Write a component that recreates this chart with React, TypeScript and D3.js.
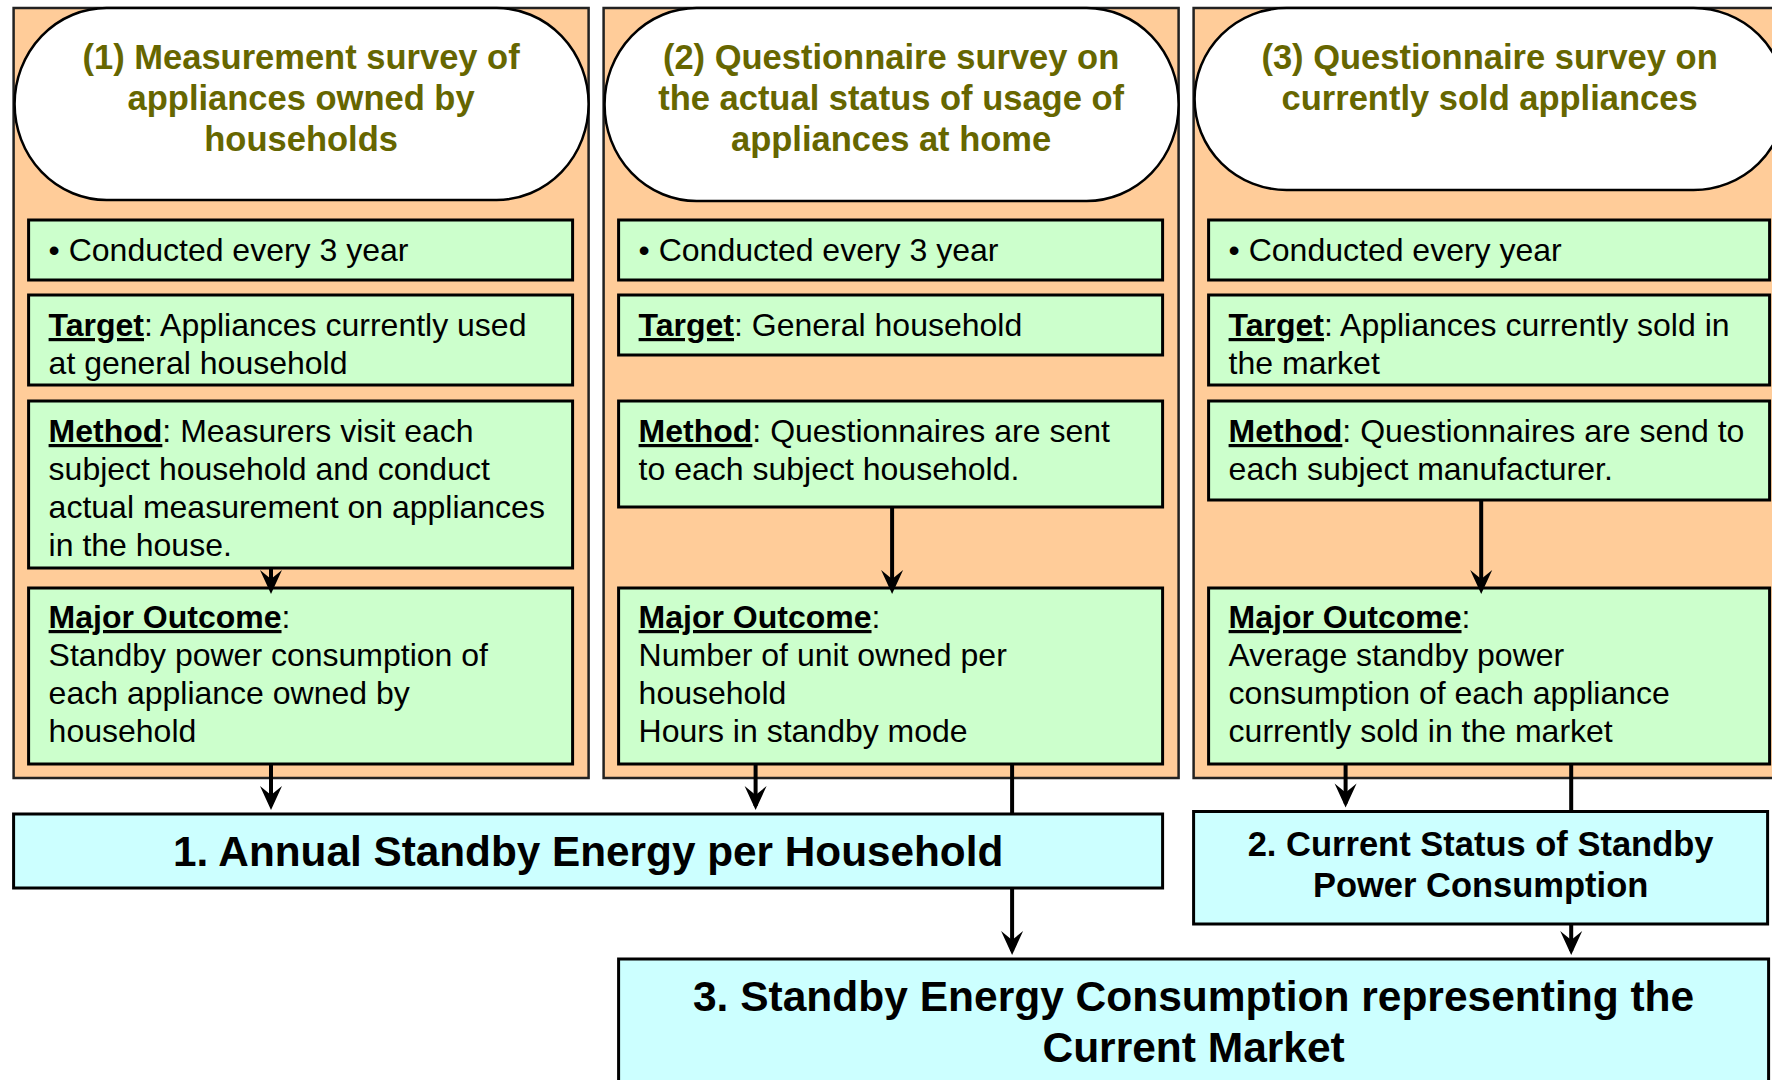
import React from 'react';
import * as d3 from 'd3';

// Flow of the standby power survey: three surveys feeding three results
const surveyTitles = [
  ['(1) Measurement survey of', 'appliances owned by', 'households'],
  ['(2) Questionnaire survey on', 'the actual status of usage of', 'appliances at home'],
  ['(3) Questionnaire survey on', 'currently sold appliances'],
];
const frequency = ['Conducted every 3 year', 'Conducted every 3 year', 'Conducted every year'];
const targetLines = [
  ['Appliances currently used', 'at general household'],
  ['General household'],
  ['Appliances currently sold in', 'the market'],
];
const methodLines = [
  ['Measurers visit each', 'subject household and conduct', 'actual measurement on appliances', 'in the house.'],
  ['Questionnaires are sent', 'to each subject household.'],
  ['Questionnaires are send to', 'each subject manufacturer.'],
];
const outcomeLines = [
  ['Standby power consumption of', 'each appliance owned by', 'household'],
  ['Number of unit owned per', 'household', 'Hours in standby mode'],
  ['Average standby power', 'consumption of each appliance', 'currently sold in the market'],
];
const resultTitles = [
  ['1. Annual Standby Energy per Household'],
  ['2. Current Status of Standby', 'Power Consumption'],
  ['3. Standby Energy Consumption representing the', 'Current Market'],
];

const W = 1772;
const H = 1080;
const FONT = '"Liberation Sans", Arial, Helvetica, sans-serif';
const PEACH = '#FFCC99';
const GREEN = '#CCFFCC';
const CYAN = '#CCFFFF';
const OLIVE = '#666600';

// layout
const panelX = d3.scaleBand<number>()
  .domain([0, 1, 2])
  .range([13.6, 1768.6])
  .paddingInner(15 / 590)
  .paddingOuter(0);
const panelTop = 8;
const panelBottom = 778;
const lastPanelExtra = 17;
const stadiumH = [192, 193, 182];
const rowTops = [220, 295, 401, 588];
const rowHeights = [
  [60, 90, 167, 176],
  [60, 60, 106, 176],
  [60, 90, 99, 176],
];
const lineGap = 38;
const bodySize = 32;
const titleSize = 34.5;

const panelW = (i: number) => panelX.bandwidth() + (i === 2 ? lastPanelExtra : 0);
const boxLeft = (i: number) => panelX(i)! + 15;
const boxRight = (i: number) => panelX(i)! + panelW(i) - 16;

// connectors: panel index + offset inside the panel
const innerArrows = [257.4, 288.5, 287.6];
const outArrows = [
  { p: 0, dx: 257.4, to: 'r1' },
  { p: 1, dx: 152, to: 'r1' },
  { p: 1, dx: 408.5, to: 'r3' },
  { p: 2, dx: 152, to: 'r2' },
  { p: 2, dx: 377.6, to: 'r3' },
];

const results = [
  { id: 'r1', x0: panelX(0)!, x1: boxRight(1), y0: 814, y1: 888, size: 42.3, base: 866 },
  { id: 'r2', x0: panelX(2)!, x1: panelX(2)! + 574, y0: 811.5, y1: 924, size: 34.5, base: 856 },
  { id: 'r3', x0: boxLeft(1), x1: panelX(2)! + 575, y0: 959, y1: 1110, size: 42.5, base: 1011 },
];

function ArrowHead({ x, y }: { x: number; y: number }) {
  const p = d3.path();
  p.moveTo(x, y);
  p.lineTo(x - 11, y - 24);
  p.lineTo(x, y - 15);
  p.lineTo(x + 11, y - 24);
  p.closePath();
  return <path d={p.toString()} fill="#000" />;
}

function Box({ x, y, w, h }: { x: number; y: number; w: number; h: number }) {
  return <rect x={x} y={y} width={w} height={h} fill={GREEN} stroke="#000" strokeWidth={3} />;
}

function LabelledLines({ x, y, label, lines, ownLine }: { x: number; y: number; label: string; lines: string[]; ownLine?: boolean }) {
  const rows = ownLine ? ['', ...lines] : lines;
  return (
    <text fontFamily={FONT} fontSize={bodySize} fill="#000">
      {rows.map((t, k) => (
        <tspan key={k} x={x} y={y + k * lineGap}>
          {k === 0 && <tspan fontWeight="bold" textDecoration="underline">{label}</tspan>}
          {k === 0 && ':'}
          {k === 0 ? (t ? ' ' + t : '') : t}
        </tspan>
      ))}
    </text>
  );
}

export default function App() {
  const line = d3.line<[number, number]>();
  const resById = Object.fromEntries(results.map((r) => [r.id, r]));

  return (
    <svg width={W} height={H} style={{ position: 'absolute', left: 0, top: 0, background: '#fff' }}>
      {/* panels */}
      {[0, 1, 2].map((i) => {
        const x = panelX(i)!;
        const w = panelW(i);
        const tx = boxLeft(i) + 20;
        const cx = x + panelX.bandwidth() / 2 + (i === 2 ? lastPanelExtra / 2 : 0);
        const hts = rowHeights[i];
        const bw = boxRight(i) - boxLeft(i);
        const ax = x + innerArrows[i];
        return (
          <g key={i}>
            <rect x={x} y={panelTop} width={w} height={panelBottom - panelTop} fill={PEACH} stroke="#222" strokeWidth={2.5} />
            <rect x={x + 1} y={panelTop} width={w - 1} height={stadiumH[i]} rx={92} ry={96} fill="#fff" stroke="#000" strokeWidth={2.5} />
            <text fontFamily={FONT} fontSize={titleSize} fontWeight="bold" fill={OLIVE} textAnchor="middle">
              {surveyTitles[i].map((t, k) => (
                <tspan key={k} x={cx} y={69 + k * 41}>{t}</tspan>
              ))}
            </text>

            {rowTops.map((t, r) => (
              <Box key={r} x={boxLeft(i)} y={t} w={bw} h={hts[r]} />
            ))}

            <text fontFamily={FONT} fontSize={bodySize} fill="#000" x={tx} y={rowTops[0] + 41}>
              {'\u2022 ' + frequency[i]}
            </text>
            <LabelledLines x={tx} y={rowTops[1] + 41} label="Target" lines={targetLines[i]} />
            <LabelledLines x={tx} y={rowTops[2] + 41} label="Method" lines={methodLines[i]} />
            <LabelledLines x={tx} y={rowTops[3] + 40} label="Major Outcome" lines={outcomeLines[i]} ownLine />

            <path d={line([[ax, rowTops[2] + hts[2]], [ax, rowTops[3] - 4]])!} stroke="#000" strokeWidth={4} />
            <ArrowHead x={ax} y={rowTops[3] + 6} />
          </g>
        );
      })}

      {/* connector lines run behind the result boxes */}
      {outArrows.map((a, k) => {
        const x = panelX(a.p)! + a.dx;
        const target = resById[a.to];
        return (
          <path key={k} d={line([[x, rowTops[3] + rowHeights[a.p][3]], [x, target.y0 - 8]])!} stroke="#000" strokeWidth={4} />
        );
      })}

      {/* result boxes */}
      {results.map((r, k) => (
        <g key={r.id}>
          <rect x={r.x0} y={r.y0} width={r.x1 - r.x0} height={r.y1 - r.y0} fill={CYAN} stroke="#000" strokeWidth={3} />
          <text fontFamily={FONT} fontSize={r.size} fontWeight="bold" fill="#000" textAnchor="middle">
            {resultTitles[k].map((t, j) => (
              <tspan key={j} x={(r.x0 + r.x1) / 2} y={r.base + j * r.size * 1.2}>{t}</tspan>
            ))}
          </text>
        </g>
      ))}

      {outArrows.map((a, k) => {
        const x = panelX(a.p)! + a.dx;
        const target = resById[a.to];
        return <ArrowHead key={k} x={x} y={target.y0 - 4} />;
      })}
    </svg>
  );
}
